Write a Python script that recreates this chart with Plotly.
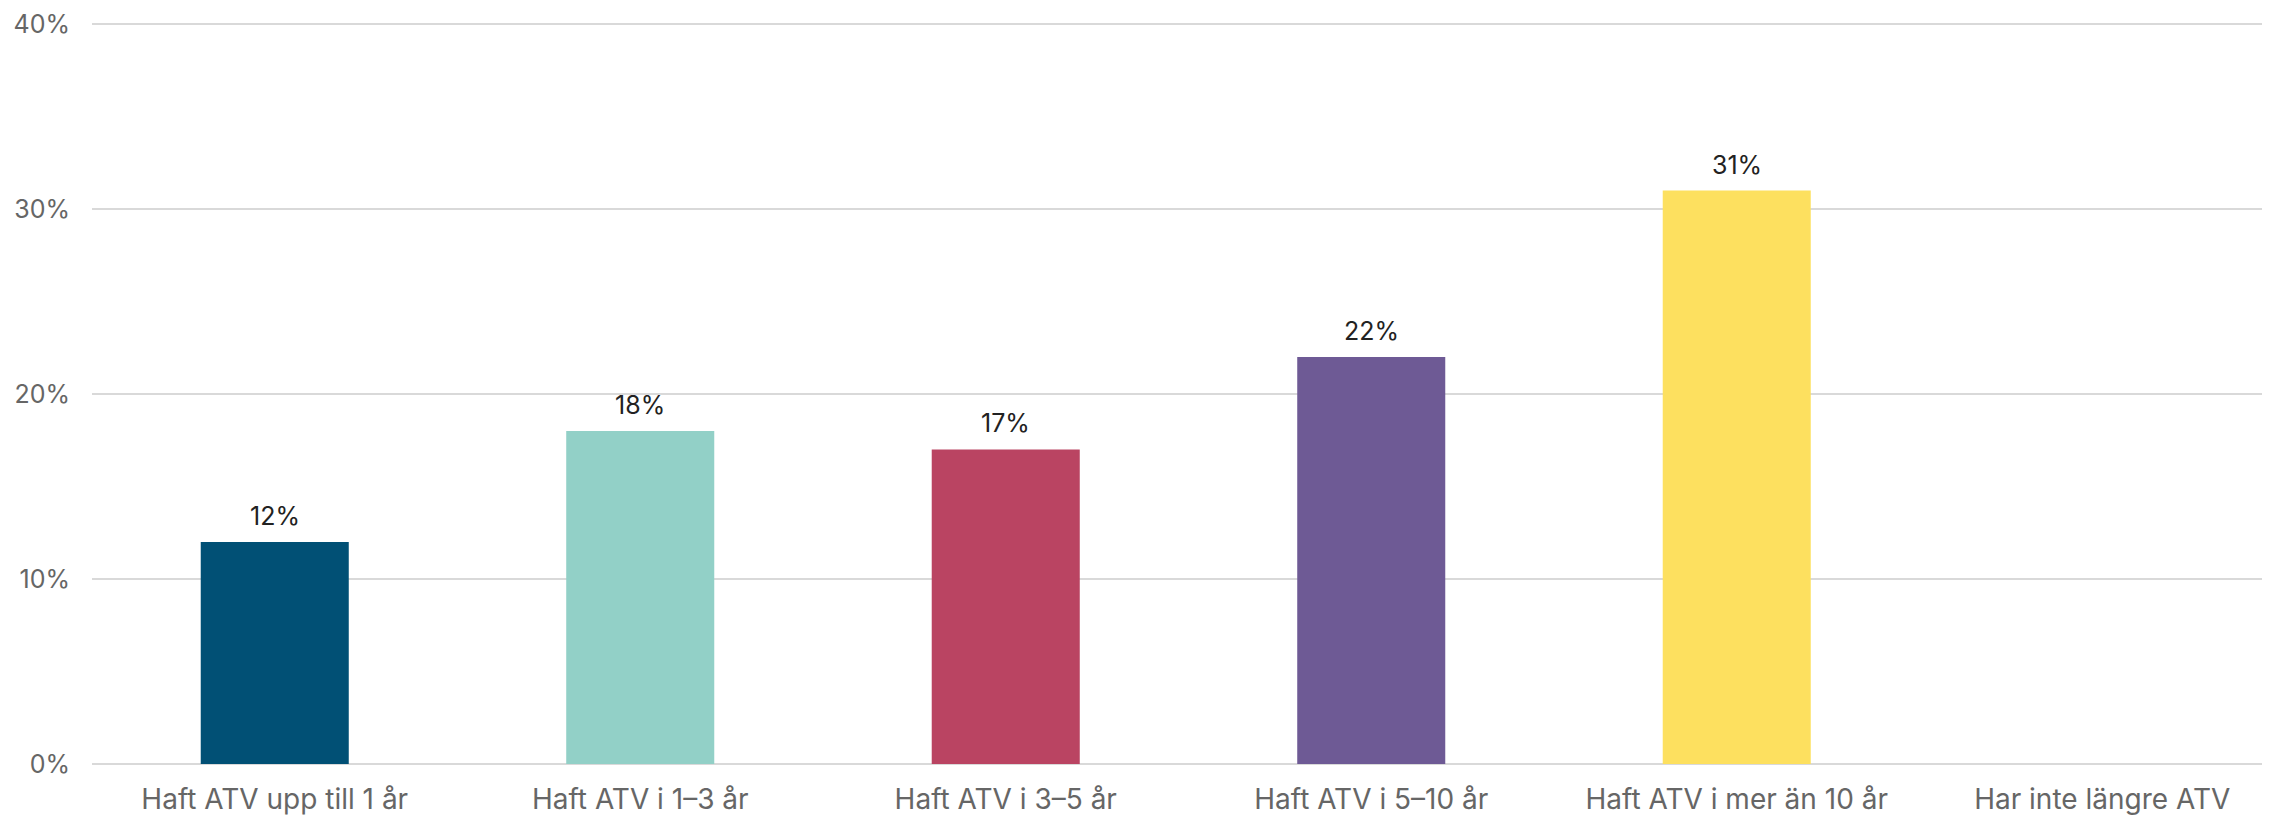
import plotly.graph_objects as go

categories = ["Haft ATV upp till 1 år", "Haft ATV i 1–3 år", "Haft ATV i 3–5 år",
              "Haft ATV i 5–10 år", "Haft ATV i mer än 10 år", "Har inte längre ATV"]
values = [0.12, 0.18, 0.17, 0.22, 0.31, None]
colors = ["#015075", "#92D0C7", "#BA4462", "#6E5A95", "#FDE05F", "#FFFFFF"]
y_ticks = [0, 0.1, 0.2, 0.3, 0.4]
y_tick_labels = ["0%", "10%", "20%", "30%", "40%"]

FONT = "Inter, Liberation Sans, Arial, sans-serif"

fig = go.Figure()
fig.add_trace(go.Bar(
    x=categories,
    y=values,
    marker=dict(color=colors, line=dict(width=0)),
    hoverinfo="skip",
))

for c, v in zip(categories, values):
    if v is None:
        continue
    fig.add_annotation(
        x=c, y=v, text=f"{round(v*100)}%", showarrow=False,
        xref="x", yref="y", yanchor="bottom", yshift=9,
        font=dict(family=FONT, size=25, color="#222222"),
    )

# page body has an 8px margin, so the figure is sized/positioned to compensate
fig.update_layout(
    width=2262, height=807,
    margin=dict(l=84, r=0, t=14, b=49),
    paper_bgcolor="white", plot_bgcolor="white",
    bargap=0.595,
    showlegend=False,
    font=dict(family=FONT, size=25, color="#666666"),
)
fig.update_xaxes(
    range=[-0.5, 5.459],
    showgrid=False, zeroline=False, showline=False,
    ticks="", ticklabelstandoff=14, automargin=False,
    tickfont=dict(family=FONT, size=28, color="#666666"),
)
fig.update_yaxes(
    range=[-0.0011, 0.4011],
    tickvals=y_ticks, ticktext=y_tick_labels,
    showgrid=True, gridcolor="#D9D9D9", gridwidth=2,
    zeroline=False, showline=False, ticks="", automargin=False,
    ticklabelstandoff=21,
    tickfont=dict(family=FONT, size=25, color="#666666"),
)

fig.write_html("out.html")
